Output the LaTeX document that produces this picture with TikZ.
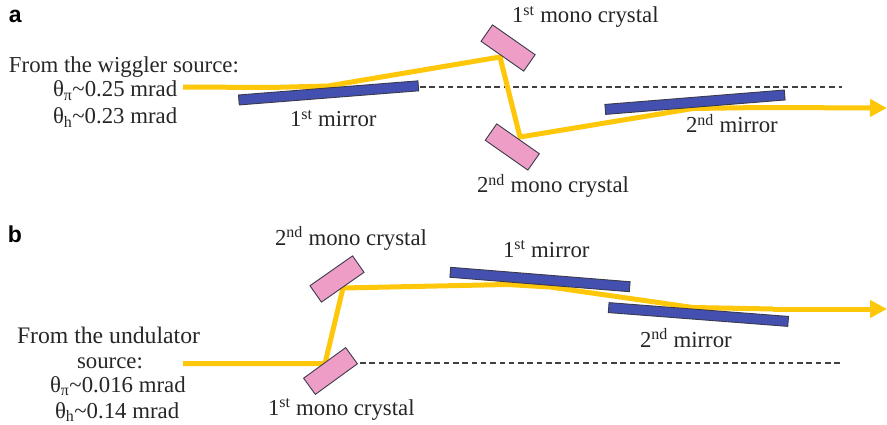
\documentclass[tikz,border=0pt]{standalone}
\usepackage{fontspec}
\setmainfont{Liberation Serif}
\newfontfamily\labelfont{Liberation Sans}
\usetikzlibrary{arrows.meta}
\definecolor{beamcol}{HTML}{FFC70A}
\definecolor{mirrorcol}{HTML}{4450B0}
\definecolor{crystalcol}{HTML}{EE9EC6}
\definecolor{edgecol}{HTML}{3A3A4A}
\tikzset{
  txt/.style={anchor=base west,inner sep=0pt,outer sep=0pt,text=black!85,font=\fontsize{22.8pt}{26pt}\selectfont},
  panel/.style={anchor=base west,inner sep=0pt,outer sep=0pt,font=\labelfont\bfseries\fontsize{23pt}{25pt}\selectfont},
  mirror/.style={draw=edgecol,fill=mirrorcol,line width=0.9pt,minimum width=180pt,minimum height=10pt,inner sep=0pt,outer sep=0pt},
  crystal/.style={draw=edgecol,fill=crystalcol,line width=0.9pt,minimum width=52pt,minimum height=20pt,inner sep=0pt,outer sep=0pt},
  beam/.style={draw=beamcol,line width=5pt,line join=round},
  beamarrow/.style={beam,-{Triangle[length=17pt,width=17pt]}},
  axis/.style={draw=black!75,line width=1.5pt,dash pattern=on 5.5pt off 3.8pt}
}
\begin{document}
\begin{tikzpicture}[x=1pt,y=-1pt]
\useasboundingbox (0,0) rectangle (887,425);
% --- panel a
\coordinate (asrc) at (183,87);
\coordinate (am0) at (270,87.5);
\coordinate (am1) at (328,86);
\coordinate (ac1) at (500,57);
\coordinate (ac2) at (520,137);
\coordinate (am2) at (693,108.5);
\coordinate (am3) at (760,107.5);
\coordinate (aout) at (887,108);
\coordinate (adashA) at (420,87);
\coordinate (adashB) at (842,87);
\draw[axis] (adashA) -- (adashB);
\draw[beam] (asrc) -- (am0) -- (am1) -- (ac1) -- (ac2) -- (am2) -- (am3);
\draw[beamarrow] (am3) -- (aout);
\node[mirror,rotate=4.5] (mirA1) at (328.6,92.9) {};
\node[mirror,rotate=4.6] (mirA2) at (695,102.2) {};
\node[crystal,rotate=-35] (cryA1) at (508.1,48) {};
\node[crystal,rotate=-35] (cryA2) at (512.3,147) {};
% --- panel b
\coordinate (bsrc) at (183,363.5);
\coordinate (bc1) at (325,363.5);
\coordinate (bc2) at (343,288);
\coordinate (bm0) at (507,284.5);
\coordinate (bm1) at (550,287);
\coordinate (bm2) at (693,307.5);
\coordinate (bm3) at (773,309);
\coordinate (bout) at (887,309);
\coordinate (bdashA) at (360,363);
\coordinate (bdashB) at (842,363);
\draw[axis] (bdashA) -- (bdashB);
\draw[beam] (bsrc) -- (bc1) -- (bc2) -- (bm0) -- (bm1) -- (bm2) -- (bm3);
\draw[beamarrow] (bm3) -- (bout);
\node[mirror,rotate=-4.6] (mirB1) at (540,279.5) {};
\node[mirror,rotate=-4.4] (mirB2) at (698.4,314.5) {};
\node[crystal,rotate=35] (cryB2) at (337,279) {};
\node[crystal,rotate=36] (cryB1) at (330.5,371) {};
% --- labels a
\node[panel] (la) at (9,23) {a};
\node[txt] (ta1) at (9,73) {From the wiggler source:};
\node[txt] (ta2) at (53,97) {θ\textsubscript{π}\textasciitilde 0.25 mrad};
\node[txt] (ta3) at (53,124) {θ\textsubscript{h}\textasciitilde 0.23 mrad};
\node[txt] (ta4) at (290,127) {1\textsuperscript{st} mirror};
\node[txt] (ta5) at (512,23) {1\textsuperscript{st} mono crystal};
\node[txt] (ta6) at (477,193) {2\textsuperscript{nd} mono crystal};
\node[txt] (ta7) at (686,133) {2\textsuperscript{nd} mirror};
% --- labels b
\node[panel] (lb) at (8,243) {b};
\node[txt] (tb1) at (275,245) {2\textsuperscript{nd} mono crystal};
\node[txt,font=\fontsize{23.7pt}{26pt}\selectfont] (tb2) at (17,343) {From the undulator};
\node[txt] (tb3) at (77,368) {source:};
\node[txt] (tb4) at (50,392) {θ\textsubscript{π}\textasciitilde 0.016 mrad};
\node[txt] (tb5) at (55,418) {θ\textsubscript{h}\textasciitilde 0.14 mrad};
\node[txt] (tb6) at (268,415) {1\textsuperscript{st} mono crystal};
\node[txt] (tb7) at (503,257) {1\textsuperscript{st} mirror};
\node[txt] (tb8) at (640,347) {2\textsuperscript{nd} mirror};
\end{tikzpicture}
\end{document}
